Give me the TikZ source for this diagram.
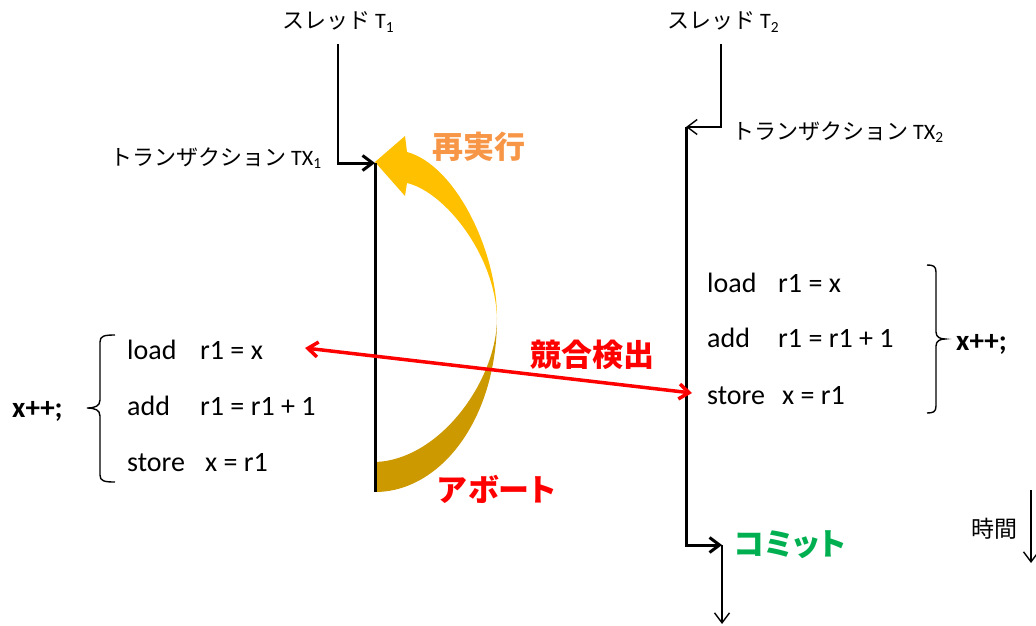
\documentclass[tikz,border=0pt]{standalone}
\usepackage{fontspec}
\setmainfont{Carlito}
\newfontfamily\jp{Noto Sans CJK JP}
\usetikzlibrary{arrows.meta}
\definecolor{gold}{HTML}{FFC000}
\definecolor{darkgold}{HTML}{CC9900}
\definecolor{orng}{HTML}{F79646}
\definecolor{grn}{HTML}{00B050}
\tikzset{
  tline/.style={line width=1.4pt},
  Tline/.style={line width=3pt},
  tip/.style={-{Straight Barb[length=10pt,width=15pt]}},
  lbl/.style={inner sep=0pt, anchor=west, font=\fontsize{22}{24}\selectfont},
  code/.style={inner sep=0pt, anchor=base west, font=\fontsize{28}{30}\selectfont},
  inc/.style={inner sep=0pt, anchor=base west, font=\bfseries\fontsize{29}{31}\selectfont},
  big/.style={inner sep=0pt, anchor=west, font=\jp\bfseries\fontsize{31}{33}\selectfont},
}
\begin{document}
\begin{tikzpicture}[x=1pt,y=-1pt]
\useasboundingbox (0,0) rectangle (1036,626);

% curved retry arrow
\fill[gold] (375,162) -- (405,136) -- (407,152)
  .. controls (455,165) and (497,250) .. (497,318)
  .. controls (495,255) and (445,192) .. (407,183) -- (405,196) -- cycle;
\fill[darkgold] (497,318) .. controls (497,420) and (440,492) .. (375,492)
  -- (375,462) .. controls (440,460) and (497,380) .. (497,318) -- cycle;

% labels
\node[lbl] (t1) at (282,22) {{\jp スレッド} T\textsubscript{1}};
\node[lbl] (t2) at (667,22) {{\jp スレッド} T\textsubscript{2}};
\node[lbl] (tx1) at (110,158) {{\jp トランザクション} TX\textsubscript{1}};
\node[lbl] (tx2) at (732,132) {{\jp トランザクション} TX\textsubscript{2}};
\node[lbl, font=\jp\fontsize{23}{25}\selectfont] (time) at (971,529) {時間};

\node[big, text=orng] (retry) at (432,147) {再実行};
\node[big, text=red] (conf) at (530,355) {競合検出};
\node[big, text=red] (abort) at (437,489) {{\addfontfeatures{RawFeature=+palt}ア\kern2ptボー\kern1ptト}};
\node[big, text=grn] (commitlbl) at (734,545) {{\addfontfeatures{RawFeature=+palt}コミ\kern1ptッ\kern1ptト}};

% code left
\node[code] (l1a) at (127,359) {load};
\node[code] (l1b) at (200,359) {r1 = x};
\node[code] (l2a) at (127,415) {add};
\node[code] (l2b) at (200,415) {r1 = r1 + 1};
\node[code] (l3a) at (127,471) {store};
\node[code] (l3b) at (205,471) {x = r1};
\node[inc] (incl) at (12,417) {x++;};
% code right
\node[code] (r1a) at (707,292) {load};
\node[code] (r1b) at (778,292) {r1 = x};
\node[code] (r2a) at (707,347) {add};
\node[code] (r2b) at (778,347) {r1 = r1 + 1};
\node[code] (r3a) at (707,404) {store};
\node[code] (r3b) at (782,404) {x = r1};
\node[inc] (incr) at (956,350) {x++;};

% braces
\draw[tline] (115,335) .. controls (104,335) and (100,336) .. (100,342) -- (100,400)
  .. controls (100,406) and (95,408) .. (87,408)
  .. controls (95,408) and (100,410) .. (100,416) -- (100,475)
  .. controls (100,481) and (104,482) .. (115,482);
\draw[tline] (927,265) .. controls (933,265) and (936,266) .. (936,272) -- (936,332)
  .. controls (936,337) and (940,339) .. (945,339)
  .. controls (940,339) and (936,341) .. (936,346) -- (936,406)
  .. controls (936,412) and (933,413) .. (927,413);

% coordinates
\coordinate (t1top) at (338,44);
\coordinate (t1c) at (338,163);
\coordinate (tx1top) at (375,163);
\coordinate (tx1bot) at (375,492);
\coordinate (t2top) at (721,44);
\coordinate (t2c) at (721,127);
\coordinate (tx2top) at (686,127);
\coordinate (commit) at (722,545);
\coordinate (t2end) at (722,624);
\coordinate (ttop) at (1031,490);
\coordinate (tbot) at (1031,563);
\coordinate (cl) at (305,348);
\coordinate (cr) at (692,393);

% thread 1
\draw[tline] (t1top) -- (t1c);
\draw[Tline, tip] ([xshift=-0.7pt]t1c) -- (tx1top);
\draw[Tline] (tx1top) -- (tx1bot);
% thread 2
\draw[tline] (t2top) -- (t2c);
\draw[tline, tip] ([xshift=0.7pt]t2c) -- (tx2top);
\draw[Tline, tip, line join=miter] (tx2top) |- (commit);
\draw[tline, tip] (commit) -- (t2end);
% time
\draw[tline, tip] (ttop) -- (tbot);
% conflict
\draw[red, line width=3.5pt, {Straight Barb[length=10pt,width=15pt]}-{Straight Barb[length=10pt,width=15pt]}] (cl) -- (cr);
\end{tikzpicture}
\end{document}
